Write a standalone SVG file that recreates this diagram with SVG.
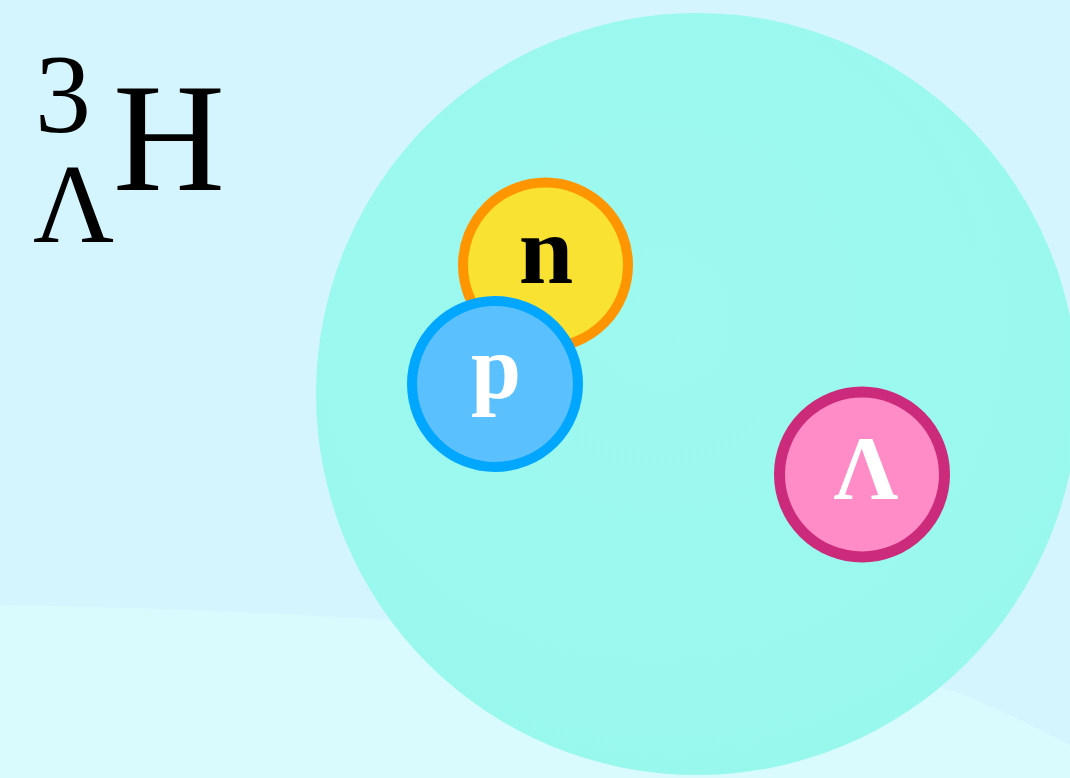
<svg xmlns="http://www.w3.org/2000/svg" width="1070" height="778" viewBox="0 0 1070 778">
<defs>
<radialGradient id="nuc" cx="0.45" cy="0.4" r="0.6">
<stop offset="0" stop-color="#9ef9f0"/>
<stop offset="1" stop-color="#99f8ee"/>
</radialGradient>
<style>
.lbl{font-family:"Liberation Serif","Times New Roman",serif;font-weight:bold;text-anchor:middle}
.sym{font-family:"Liberation Serif","Times New Roman",serif;fill:#000}
</style>
</defs>
<rect width="1070" height="778" fill="#d4f5fd"/>
<path d="M0,605 C300,610 600,630 850,665 C950,680 1020,720 1070,745 L1070,778 L0,778 Z" fill="#dafbfd"/>
<g id="nucleus">
<circle cx="697" cy="394" r="381" fill="url(#nuc)"/>
</g>
<g id="connectors"/>
<g id="title">
<text class="sym" font-size="112"><tspan x="35" y="132">3</tspan><tspan x="33" y="242">Λ</tspan><tspan x="113" y="190" font-size="155">H</tspan></text>
</g>
<g id="neutron">
<circle cx="545.5" cy="265" r="82.5" fill="#f9e232" stroke="#ff9500" stroke-width="10"/>
<text class="lbl" x="546" y="283" font-size="98" fill="#000">n</text>
</g>
<g id="proton">
<circle cx="495" cy="384" r="83" fill="#5bc1fe" stroke="#00a6ff" stroke-width="10"/>
<text class="lbl" x="496" y="398" font-size="90" fill="#fff">p</text>
</g>
<g id="lambda">
<circle cx="862" cy="474.5" r="82.5" fill="#ff8cc6" stroke="#cc2a7a" stroke-width="11"/>
<text class="lbl" x="866" y="499" font-size="90" fill="#fff">Λ</text>
</g>
</svg>
